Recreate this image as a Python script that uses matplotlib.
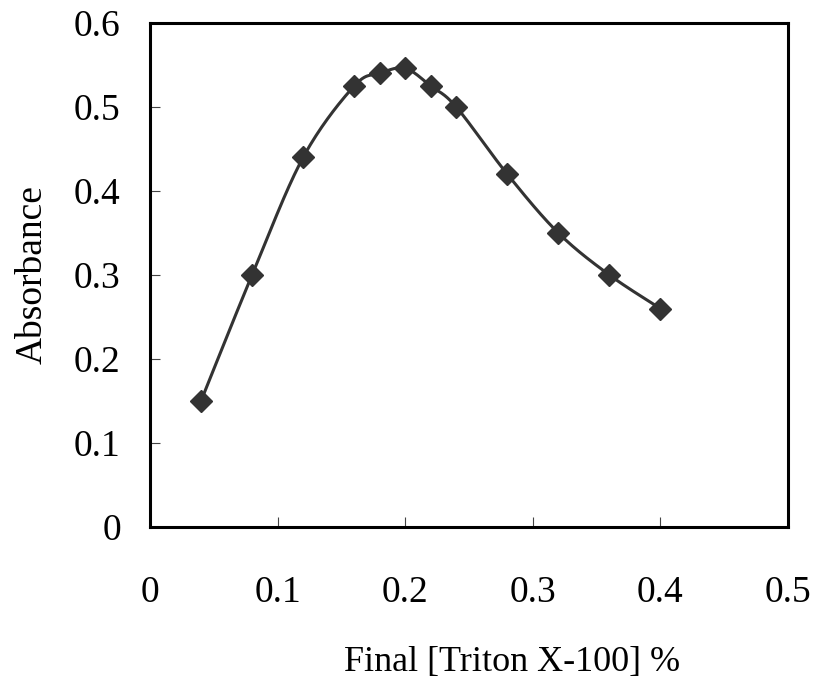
import numpy as np
import matplotlib
matplotlib.use('Agg')
import matplotlib.pyplot as plt

# data
triton = [0.04, 0.08, 0.12, 0.16, 0.18, 0.20, 0.22, 0.24, 0.28, 0.32, 0.36, 0.40]
absorbance = [0.15, 0.30, 0.44, 0.525, 0.54, 0.546, 0.525, 0.50, 0.42, 0.35, 0.30, 0.26]
x_ticks = [0, 0.1, 0.2, 0.3, 0.4, 0.5]
y_ticks = [0, 0.1, 0.2, 0.3, 0.4, 0.5, 0.6]
x_tick_labels = ['0', '0.1', '0.2', '0.3', '0.4', '0.5']
y_tick_labels = ['0', '0.1', '0.2', '0.3', '0.4', '0.5', '0.6']


def smooth_line(xs, ys, sx, sy, n=30):
    # Excel-like smoothed line: cubic bezier segments, control points from neighbours
    # done in scaled (screen-like) coordinates so the curve looks even
    P = np.column_stack([np.array(xs) / sx, np.array(ys) / sy])
    out = []
    for i in range(len(P) - 1):
        p0 = P[i - 1] if i > 0 else P[i]
        p1, p2 = P[i], P[i + 1]
        p3 = P[i + 2] if i + 2 < len(P) else P[i + 1]
        c1 = p1 + (p2 - p0) / 6
        c2 = p2 - (p3 - p1) / 6
        t = np.linspace(0, 1, n)[:, None]
        seg = (1 - t) ** 3 * p1 + 3 * (1 - t) ** 2 * t * c1 + 3 * (1 - t) * t ** 2 * c2 + t ** 3 * p2
        out.append(seg if i == 0 else seg[1:])
    out = np.vstack(out)
    return out[:, 0] * sx, out[:, 1] * sy


plt.rcParams['font.family'] = ['Liberation Serif', 'DejaVu Serif']

fig = plt.figure(figsize=(8.15, 6.85), dpi=100)
ax = fig.add_axes([0.184, 0.2307, 0.783, 0.7357])

# 0.5 in x spans 638px, 0.6 in y spans 504px
lx, ly = smooth_line(triton, absorbance, 0.5 / 638, 0.6 / 504)
ax.plot(lx, ly, color='#333333', lw=2.2, solid_capstyle='round', zorder=2)
ax.plot(triton, absorbance, ls='none', marker='D', ms=11, color='#333333', zorder=3)

ax.set_xlim(0, 0.5)
ax.set_ylim(0, 0.6)
ax.set_xticks(x_ticks)
ax.set_yticks(y_ticks)
ax.set_xticklabels(x_tick_labels)
ax.set_yticklabels(y_tick_labels)
ax.tick_params(direction='in', length=7, width=0.8, color='#444444', labelsize=27)
ax.tick_params(axis='x', pad=35)
ax.tick_params(axis='y', pad=21)

for s in ax.spines.values():
    s.set_linewidth(2.2)
    s.set_color('black')

xl = ax.set_xlabel('Final [Triton X-100] %', fontsize=26)
xl.set_va('center')
ax.xaxis.set_label_coords(0.567, -0.268)
yl = ax.set_ylabel('Absorbance', fontsize=27)
yl.set_va('center')
ax.yaxis.set_label_coords(-0.184, 0.5)

fig.savefig('out.png', dpi=100)
